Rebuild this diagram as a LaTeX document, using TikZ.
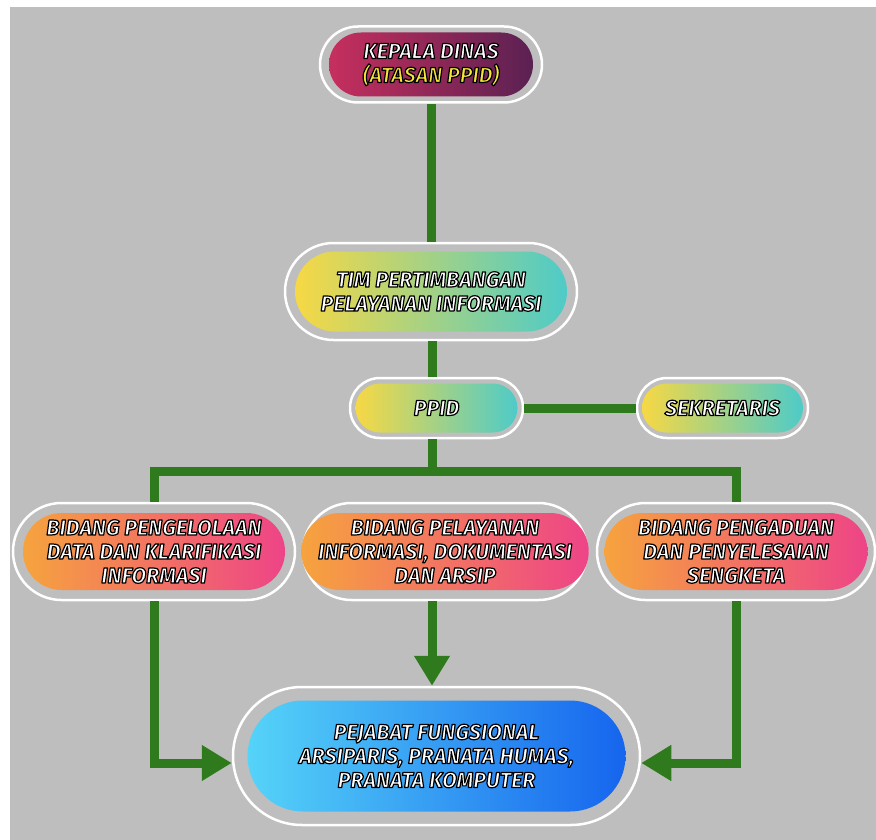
\documentclass[tikz,border=0pt]{standalone}
\usepackage{fontspec}
\setmainfont{Fira Sans}
\usetikzlibrary{
  arrows.meta,
  positioning,
  shapes.misc
}
\definecolor{bggray}{HTML}{BEBEBE}
\definecolor{linkgreen}{HTML}{2F7A1C}
\definecolor{kepalaL}{HTML}{C62F5E}
\definecolor{kepalaR}{HTML}{5A2152}
\definecolor{timL}{HTML}{F7D844}
\definecolor{timR}{HTML}{4ECBC8}
\definecolor{bidL}{HTML}{F6A33E}
\definecolor{bidR}{HTML}{EE4487}
\definecolor{pejL}{HTML}{55D3F8}
\definecolor{pejR}{HTML}{1665EE}
% outlined text: fill colour (rgb), black stroke
\newcommand{\pilltext}[2][1 1 1]{\special{pdf:bcolor [#1] [0 0 0]}%
  \special{pdf:literal direct 2 Tr 1.2 w 1 j 1 J}#2%
  \special{pdf:literal direct 0 Tr 0 j 0 J}\special{pdf:ecolor}}
\tikzset{
  ring/.style = {rounded rectangle, draw=white, line width=2.5pt,
      inner sep=0pt},
  pill/.style = {rounded rectangle, inner sep=0pt, align=center,
      font=\fontsize{21.5}{24}\selectfont\bfseries\itshape},
  warm/.style = {pill, left color=kepalaL, right color=kepalaR},
  fresh/.style = {pill, left color=timL, right color=timR},
  hot/.style = {pill, left color=bidL, right color=bidR},
  cool/.style = {pill, left color=pejL, right color=pejR},
  link/.style = {draw=linkgreen, line width=9pt},
  flow/.style = {link, -{Triangle[width=34pt, length=30pt]}},
}

\begin{document}
\begin{tikzpicture}[x=1pt, y=-1pt]
  \useasboundingbox (0,0) rectangle (876,840);
  \fill[bggray] (10,7) rectangle (876,840);

  % top levels
  \node[ring, minimum width=222pt, minimum height=76pt] (kepalaRing) at (431,64.5) {};
  \node[warm, minimum width=204pt, minimum height=64pt] (kepala) at (kepalaRing)
    {\pilltext{KEPALA DINAS}\\ \pilltext[0.957 0.902 0.227]{(ATASAN PPID)}};

  \node[ring, minimum width=292pt, minimum height=97pt] (timRing) at (431,291.5) {};
  \node[fresh, minimum width=272pt, minimum height=80pt] (tim) at (timRing)
    {\pilltext{TIM PERTIMBANGAN}\\ \pilltext{PELAYANAN INFORMASI}};

  \node[ring, minimum width=173pt, minimum height=60pt] (ppidRing) at (436.5,408) {};
  \node[fresh, minimum width=162pt, minimum height=49pt] (ppid) at (ppidRing)
    {\pilltext{PPID}};

  \node[ring, minimum width=171pt, minimum height=60pt] (sekRing) at (722.5,408) {};
  \node[fresh, minimum width=161pt, minimum height=49pt] (sek) at (sekRing)
    {\pilltext{SEKRETARIS}};

  % bidang
  \node[ring, minimum width=282pt, minimum height=97pt] (bidAring) at (154,551.5) {};
  \node[hot, minimum width=262pt, minimum height=77pt] (bidA) at (bidAring)
    {\pilltext{BIDANG PENGELOLAAN}\\ \pilltext{DATA DAN KLARIFIKASI}\\ \pilltext{INFORMASI}};

  \node[ring, minimum width=284pt, minimum height=97pt] (bidBring) at (445,551.5) {};
  \node[hot, minimum width=265pt, minimum height=77pt] (bidB) at (bidBring)
    {\pilltext{BIDANG PELAYANAN}\\ \pilltext{INFORMASI, DOKUMENTASI}\\ \pilltext{DAN ARSIP}};

  \node[ring, minimum width=278pt, minimum height=97pt] (bidCring) at (736,551.5) {};
  \node[hot, minimum width=263pt, minimum height=77pt] (bidC) at (bidCring)
    {\pilltext{BIDANG PENGADUAN}\\ \pilltext{DAN PENYELESAIAN}\\ \pilltext{SENGKETA}};

  % pejabat
  \node[ring, minimum width=407pt, minimum height=138pt] (pejRing) at (436.5,756) {};
  \node[cool, minimum width=378pt, minimum height=111pt] (pej) at (pejRing)
    {\pilltext{PEJABAT FUNGSIONAL}\\ \pilltext{ARSIPARIS, PRANATA HUMAS,}\\ \pilltext{PRANATA KOMPUTER}};

  \coordinate (bus) at (432,471);

  % connectors
  \draw[link] (kepalaRing.south) -- (timRing.north);
  \draw[link] (timRing.south -| bus) -- (ppidRing.north -| bus);
  \draw[link] (ppidRing.east) -- (sekRing.west);
  \draw[link] (ppidRing.south -| bus) -- (bus);
  \draw[link, line join=miter] (bidAring.north) |- (bus) -| (bidCring.north);
  \draw[flow] (bidAring.south) |- ([yshift=-7pt]pejRing.west);
  \draw[flow] (bidBring.south -| bus) -- (pejRing.north -| bus);
  \draw[flow] (bidCring.south) |- ([yshift=-7pt]pejRing.east);
\end{tikzpicture}
\end{document}
